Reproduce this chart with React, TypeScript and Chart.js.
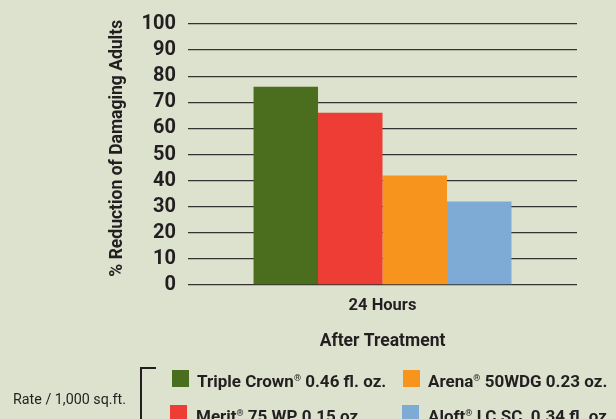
import React, { useEffect, useRef } from "react";
import { Chart, registerables } from "chart.js";

Chart.register(...registerables);

const categories = ["24 Hours"];
const seriesNames = ["Triple Crown", "Merit", "Arena", "Aloft"];
const seriesRates = ["0.46 fl. oz.", "75 WP 0.15 oz.", "50WDG 0.23 oz.", "LC SC  0.34 fl. oz."];
const tripleCrown = [76];
const merit = [66];
const arena = [42];
const aloft = [32];
const seriesColors = ["#4a6e1d", "#ee3d35", "#f7941e", "#7eaad6"];
const yTicks = [0, 10, 20, 30, 40, 50, 60, 70, 80, 90, 100];

const FONT = "Roboto, 'Liberation Sans', sans-serif";
const BG = "#dce2ce";
const INK = "#231f20";

export default function App() {
  const ref = useRef<HTMLCanvasElement | null>(null);
  useEffect(() => {
    if (!ref.current) return;
    const values = [tripleCrown, merit, arena, aloft];
    const chart = new Chart(ref.current, {
      type: "bar",
      data: {
        labels: categories,
        datasets: seriesNames.map((n, i) => ({
          label: n,
          data: values[i],
          backgroundColor: seriesColors[i],
          borderWidth: 0,
          barPercentage: 1,
          categoryPercentage: 0.663,
        })),
      },
      options: {
        responsive: false,
        animation: false,
        layout: { padding: { top: 24, right: 39, bottom: 0, left: 0 } },
        plugins: { legend: { display: false }, tooltip: { enabled: false } },
        scales: {
          x: {
            grid: { display: false },
            border: { display: false },
            ticks: { color: INK, font: { family: FONT, size: 16.5, weight: "bold" }, padding: 3 },
            title: {
              display: true,
              text: "After Treatment",
              color: INK,
              font: { family: FONT, size: 17.5, weight: "bold" },
              padding: { top: 0, bottom: 67 },
            },
            afterFit: (s: any) => {
              s.height = 134;
            },
          },
          y: {
            min: 0,
            max: 100,
            afterBuildTicks: (s: any) => {
              s.ticks = yTicks.map((v) => ({ value: v }));
            },
            grid: { color: "#333333", lineWidth: 1.3, drawTicks: false },
            border: { display: false },
            ticks: {
              color: INK,
              autoSkip: false,
              font: { family: FONT, size: 20, weight: "bold" },
              padding: 12,
            },
            title: {
              display: true,
              text: "\u2002\u2009% Reduction of Damaging Adults",
              color: INK,
              font: { family: FONT, size: 17.5, weight: "bold" },
              padding: { top: 107, bottom: 0 },
            },
            afterFit: (s: any) => {
              s.width = 188;
            },
          },
        },
      },
    });
    return () => chart.destroy();
  }, []);

  const sq = (c: string, x: number, y: number) => (
    <div style={{ position: "absolute", left: x, top: y, width: 17, height: 17, background: c }} />
  );
  const txt = (name: string, rate: string, x: number, y: number) => (
    <div
      style={{
        position: "absolute",
        left: x,
        top: y,
        fontFamily: FONT,
        fontWeight: "bold",
        fontSize: 17,
        color: INK,
        whiteSpace: "pre",
        lineHeight: "20px",
      }}
    >
      {name}
      <sup style={{ fontSize: 9, verticalAlign: "6px" }}>®</sup> {rate}
    </div>
  );

  return (
    <div style={{ position: "fixed", left: 0, top: 0, width: 616, height: 419, background: BG, overflow: "hidden" }}>
      <canvas ref={ref} width={616} height={419} style={{ display: "block", width: 616, height: 419 }} />
      <div
        style={{
          position: "absolute",
          left: 13,
          top: 390,
          fontFamily: FONT,
          fontSize: 14.3,
          color: INK,
          whiteSpace: "pre",
          lineHeight: "18px",
        }}
      >
        Rate / 1,000 sq.ft.
      </div>
      <div
        style={{
          position: "absolute",
          left: 140,
          top: 367,
          width: 14,
          height: 80,
          borderLeft: "2px solid " + INK,
          borderTop: "2px solid " + INK,
        }}
      />
      {sq(seriesColors[0], 172, 370)}
      {txt(seriesNames[0], seriesRates[0], 197, 368)}
      {sq(seriesColors[2], 403, 370)}
      {txt(seriesNames[2], seriesRates[2], 428, 368)}
      {sq(seriesColors[1], 170, 405)}
      {txt(seriesNames[1], seriesRates[1], 196, 403)}
      {sq(seriesColors[3], 402, 405)}
      {txt(seriesNames[3], seriesRates[3], 428, 403)}
    </div>
  );
}
